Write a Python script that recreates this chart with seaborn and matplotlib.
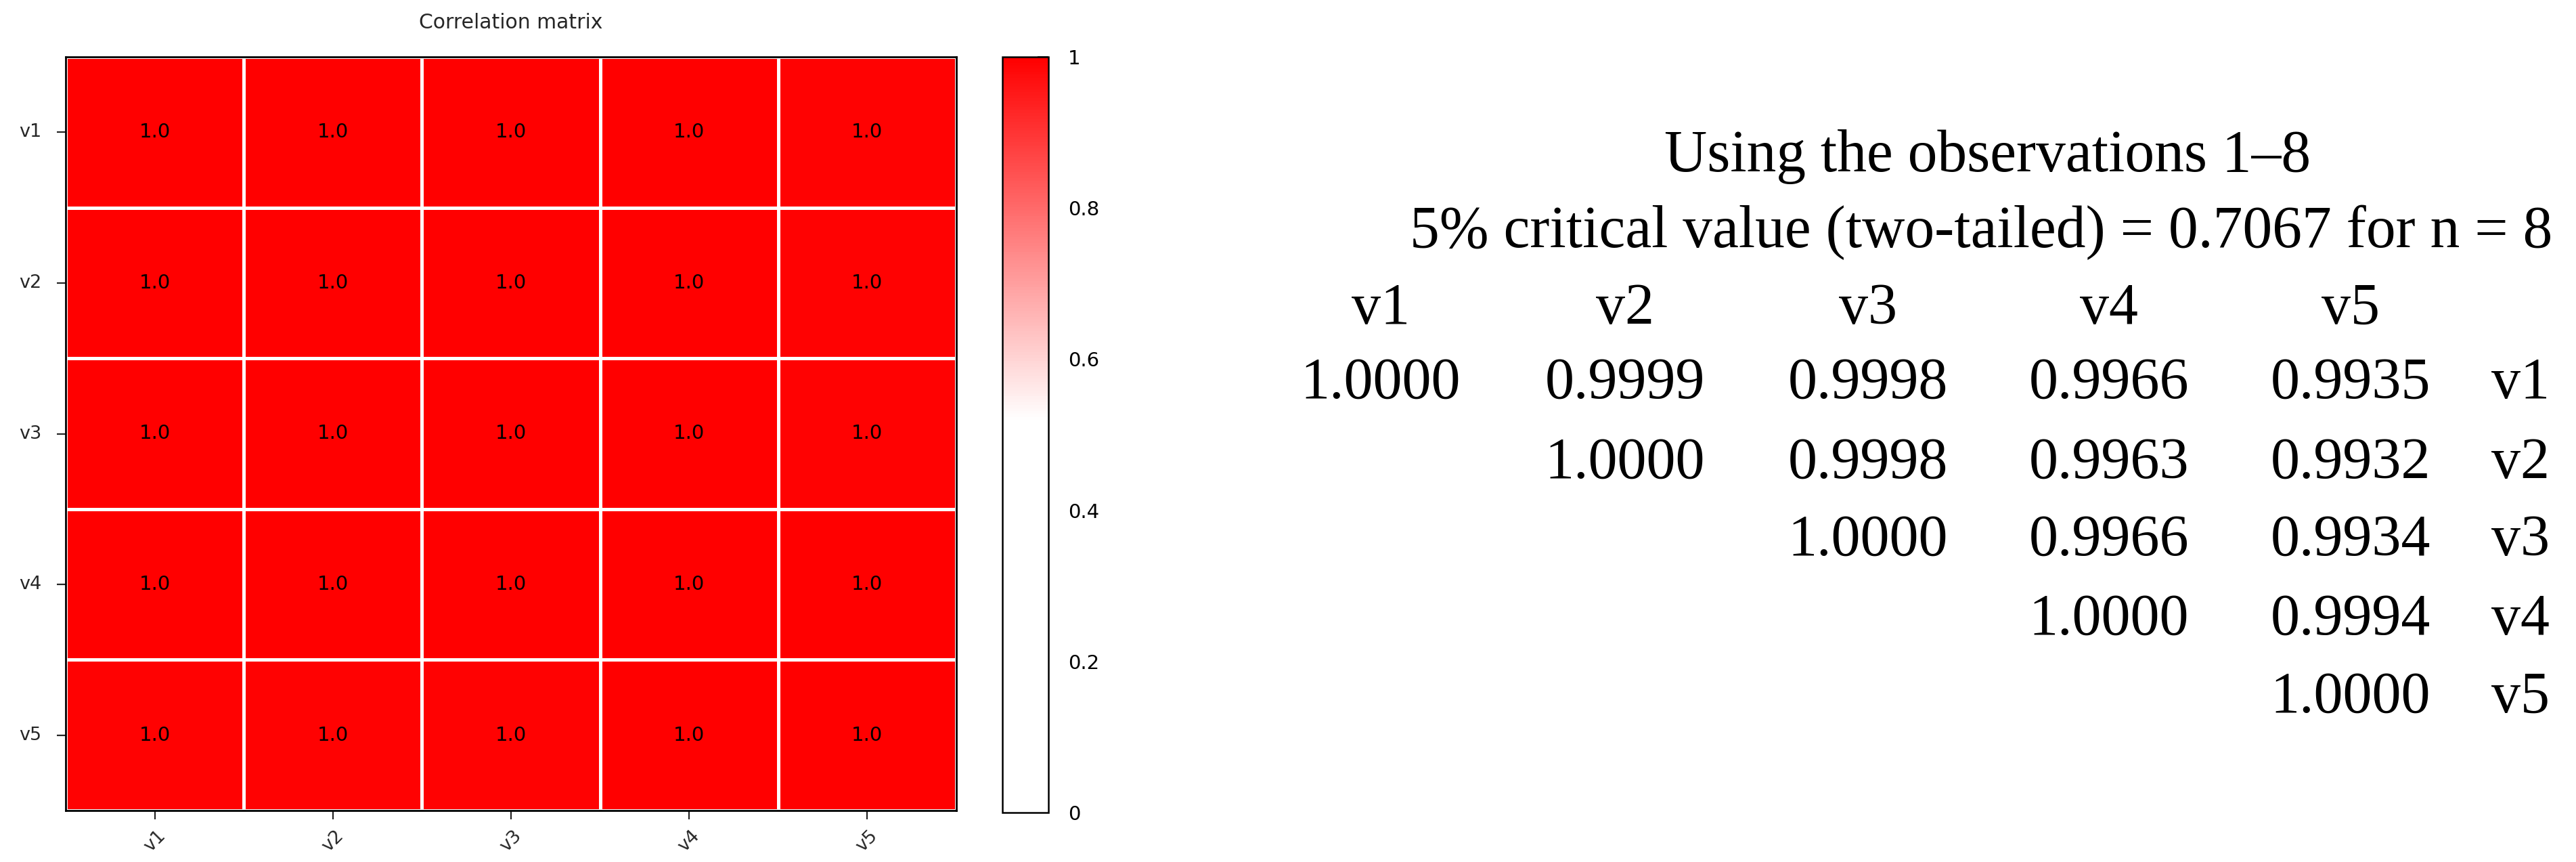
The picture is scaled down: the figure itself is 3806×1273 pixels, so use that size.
import numpy as np
import pandas as pd
import matplotlib
matplotlib.use("Agg")
import matplotlib.pyplot as plt
from matplotlib.colors import LinearSegmentedColormap
import seaborn as sns

# ---- data ----
variables = ["v1", "v2", "v3", "v4", "v5"]
row_v1 = [1.0000, 0.9999, 0.9998, 0.9966, 0.9935]
row_v2 = [0.9999, 1.0000, 0.9998, 0.9963, 0.9932]
row_v3 = [0.9998, 0.9998, 1.0000, 0.9966, 0.9934]
row_v4 = [0.9966, 0.9963, 0.9966, 1.0000, 0.9994]
row_v5 = [0.9935, 0.9932, 0.9934, 0.9994, 1.0000]
cbar_ticks = [0, 0.2, 0.4, 0.6, 0.8, 1]
cbar_ticklabels = ["0", "0.2", "0.4", "0.6", "0.8", "1"]
title_text = "Correlation matrix"
header_line1 = "Using the observations 1\u20138"
header_line2 = "5% critical value (two-tailed) = 0.7067 for n = 8"

corr = pd.DataFrame([row_v1, row_v2, row_v3, row_v4, row_v5],
                    index=variables, columns=variables)

sns.set_style("ticks")
plt.rcParams["font.family"] = ["DejaVu Sans"]

W, H = 3806, 1273
fig = plt.figure(figsize=(W / 100, H / 100), dpi=100)

def px_axes(x0, y0, x1, y1):
    return fig.add_axes([x0 / W, 1 - y1 / H, (x1 - x0) / W, (y1 - y0) / H])

ax = px_axes(97, 84, 1413, 1197)
cax = px_axes(1481, 84, 1549, 1200)

cmap = LinearSegmentedColormap.from_list(
    "wr", [(0.0, "white"), (0.52, "white"), (1.0, "#ff0000")])

sns.heatmap(corr, ax=ax, cbar_ax=cax, cmap=cmap, vmin=0, vmax=1,
            annot=True, fmt=".1f", linewidths=3.5, linecolor="white",
            annot_kws={"size": 21, "color": "black"})

ax.set_title(title_text, fontsize=21.5, pad=30)
ax.set_xticklabels(variables, rotation=45, ha="center")
ax.set_yticklabels(variables, rotation=0)
ax.tick_params(axis="y", length=9.5, width=1.6, labelsize=19.5, pad=16)
ax.tick_params(axis="x", length=9.5, width=1.6, labelsize=19.5, pad=8)
for sp in ax.spines.values():
    sp.set_visible(True)
    sp.set_color("black")
    sp.set_linewidth(2)

cbar = ax.collections[0].colorbar
cbar.set_ticks(cbar_ticks)
cbar.set_ticklabels(cbar_ticklabels)
cbar.outline.set_edgecolor("black")
cbar.outline.set_linewidth(1.8)
cax.tick_params(direction="in", length=11.5, width=1.3, labelsize=21, pad=21,
                colors="black")

# ---- right-hand text table ----
serif = ["Liberation Serif", "DejaVu Serif"]
fs_head = 63
fs = 62

def ftext(x, y, s, size, ha="center"):
    fig.text(x / W, 1 - y / H, s, ha=ha, va="baseline",
             fontsize=size, family=serif, color="black")

ftext(2937, 253, header_line1, fs_head)
ftext(2927, 365, header_line2, fs_head)

col_x = [2040, 2401, 2760, 3116, 3473]
label_x = 3724
header_y = 478
row_y = [588, 706, 820, 937, 1052]

for j, name in enumerate(variables):
    ftext(col_x[j], header_y, name, fs)

for i in range(len(variables)):
    for j in range(i, len(variables)):
        ftext(col_x[j], row_y[i], f"{corr.iloc[i, j]:.4f}", fs)
    ftext(label_x, row_y[i], variables[i], fs)

fig.savefig("out.png", dpi=100)
